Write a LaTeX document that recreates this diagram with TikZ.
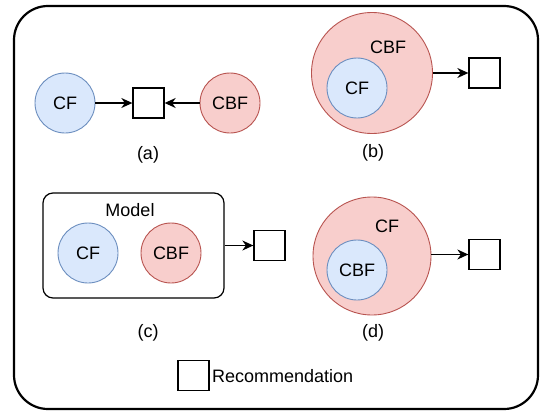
\documentclass[tikz,border=0pt]{standalone}
\usepackage{fontspec}
\setmainfont{Liberation Sans}
\usetikzlibrary{arrows.meta}
\definecolor{bfill}{HTML}{DAE8FC}
\definecolor{bdraw}{HTML}{6C8EBF}
\definecolor{rfill}{HTML}{F8CECC}
\definecolor{rdraw}{HTML}{B85450}
\tikzset{
  bluec/.style={circle,draw=bdraw,fill=bfill,line width=0.9pt,inner sep=0pt,font=\fontsize{18}{20}\selectfont},
  redc/.style={circle,draw=rdraw,fill=rfill,line width=0.9pt,inner sep=0pt,font=\fontsize{18}{20}\selectfont},
  recbox/.style={draw=black,fill=white,line width=1.3pt,minimum width=31pt,minimum height=30pt,inner sep=0pt},
  lbl/.style={font=\fontsize{18}{20}\selectfont,inner sep=0pt},
  arr/.style={line width=1.3pt,-{Stealth[length=11pt,width=10pt,inset=3.5pt]}},
}
\begin{document}
\begin{tikzpicture}[x=1pt,y=-1pt]
\useasboundingbox (0,0) rectangle (540,412);
\draw[line width=2.2pt,rounded corners=34pt] (14,6) rectangle (538,409);
% (a)
\node[bluec,minimum size=60pt] (acf) at (65,103) {CF};
\node[redc,minimum size=60pt] (acbf) at (230,103) {CBF};
\node[recbox] (ar) at (148.5,103) {};
\draw[arr] (acf) -- (ar);
\draw[arr] (acbf) -- (ar);
\node[lbl] (al) at (148,155) {(a)};
% (b)
\node[redc,minimum size=121pt] (bcbf) at (372,73) {};
\node[lbl] (bcbfl) at (388,47) {CBF};
\node[bluec,minimum size=60pt] (bcf) at (357,88) {CF};
\node[recbox] (br) at (484.5,73) {};
\draw[arr] (bcbf.east) -- (br);
\node[lbl] (bl) at (373,153) {(b)};
% (c)
\node[draw=black,line width=1.2pt,rounded corners=10pt,minimum width=181pt,minimum height=105pt,inner sep=0pt] (model) at (133.5,245.5) {};
\node[lbl] (modell) at (130,210) {Model};
\node[bluec,minimum size=60pt] (ccf) at (88,253) {CF};
\node[redc,minimum size=60pt] (ccbf) at (171,253) {CBF};
\node[recbox] (cr) at (269.5,245.5) {};
\draw[arr] (model.east) -- (cr);
\node[lbl] (cl) at (148,333) {(c)};
% (d)
\node[redc,minimum size=118pt] (dcf) at (372,256) {};
\node[lbl] (dcfl) at (387,226) {CF};
\node[bluec,minimum size=60pt] (dcbf) at (357,270) {CBF};
\node[recbox] (dr) at (484.5,254.5) {};
\draw[arr] (dcf.east |- dr.west) -- (dr);
\node[lbl] (dl) at (373,333) {(d)};
% legend
\node[recbox] (leg) at (193.5,375.5) {};
\node[lbl,anchor=west] (legl) at (212,376) {Recommendation};
\end{tikzpicture}
\end{document}
